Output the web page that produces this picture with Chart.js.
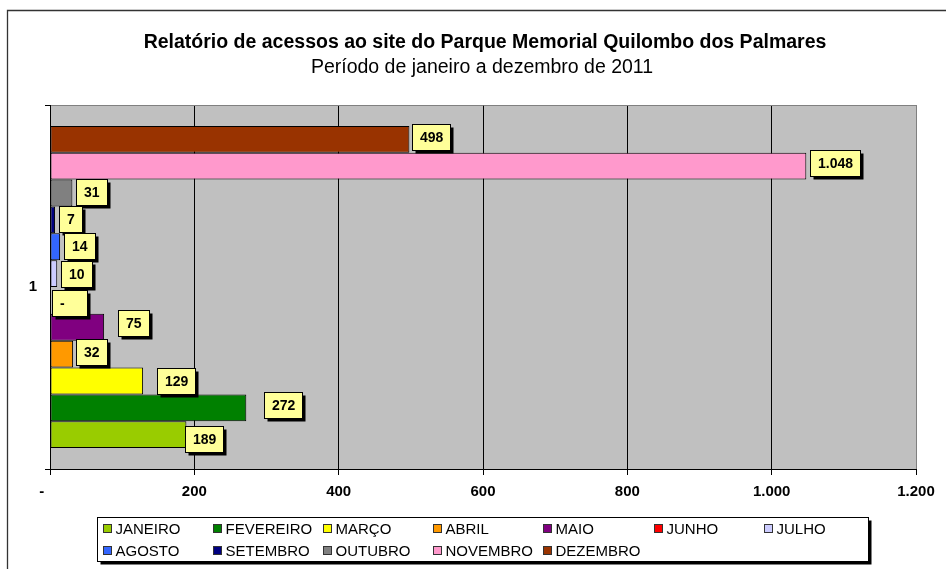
<!DOCTYPE html>
<html>
<head>
<meta charset="utf-8">
<title>Relatório de acessos</title>
<script src="https://cdn.jsdelivr.net/npm/chart.js@4.4.1/dist/chart.umd.min.js"></script>
<style>
html,body{margin:0;padding:0;background:#fff;}
canvas{display:block;}
</style>
</head>
<body>
<canvas id="grafico" width="946" height="569"></canvas>
<script>
const meses = ["JANEIRO","FEVEREIRO","MARÇO","ABRIL","MAIO","JUNHO","JULHO","AGOSTO","SETEMBRO","OUTUBRO","NOVEMBRO","DEZEMBRO"];
const acessos = [189, 272, 129, 32, 75, 0, 10, 14, 7, 31, 1048, 498];
const cores = ["#99CC00","#008000","#FFFF00","#FF9900","#800080","#FF0000","#CCCCFF","#3366FF","#000080","#808080","#FF99CC","#993300"];
const categorias = ["1"];
const titulo = "Relatório de acessos ao site do Parque Memorial Quilombo dos Palmares";
const subtitulo = "Período de janeiro a dezembro de 2011";

// posição dos rótulos em px, relativa à ponta / centro de cada barra
const rotuloDx = [-1, 18, 14, 3, 14, 1.5, 4, 4, 3.5, 4, 3.5, 3];
const rotuloDy = [4, -2.5, 0, -1.7, -3.8, 3, 0, -1, -1, -1, -3, -2.7];

const fonte = 'Arial, "Liberation Sans", sans-serif';

function formata(v)
{
    // formato contábil do Excel: zero vira "-"
    if (v === 0) return "-    ";
    return String(v).replace(/\B(?=(\d{3})+(?!\d))/g, ".");
}

// no Chart.js o primeiro dataset fica em cima, então inverte
let datasets = [];
for (let i = meses.length - 1; i >= 0; i--)
{
    datasets.push({
        label: meses[i],
        mes: i,
        data: [acessos[i]],
        backgroundColor: cores[i],
        borderColor: "#000",
        borderWidth: 1,
        borderSkipped: false
    });
}

const fundo = {
    id: "fundo",
    beforeDraw(chart)
    {
        let ctx = chart.ctx;
        let a = chart.chartArea;
        ctx.save();
        ctx.fillStyle = "#fff";
        ctx.fillRect(0, 0, chart.width, chart.height);
        ctx.strokeStyle = "#333";
        ctx.lineWidth = 1.3;
        ctx.beginPath();
        ctx.moveTo(7.5, chart.height);
        ctx.lineTo(7.5, 10.5);
        ctx.lineTo(chart.width, 10.5);
        ctx.stroke();
        ctx.fillStyle = "#C0C0C0";
        ctx.fillRect(a.left, a.top, a.right - a.left, a.bottom - a.top);
        ctx.restore();
    }
};

const rotulos = {
    id: "rotulos",
    afterDatasetsDraw(chart)
    {
        let ctx = chart.ctx;
        ctx.save();
        ctx.font = "bold 14px " + fonte;
        ctx.textBaseline = "middle";
        ctx.textAlign = "left";
        chart.data.datasets.forEach(function (ds, k)
        {
            let bar = chart.getDatasetMeta(k).data[0];
            let i = ds.mes;
            let txt = formata(acessos[i]);
            let w = Math.round(ctx.measureText(txt).width + 15);
            let h = 26;
            let x = Math.round(bar.x + rotuloDx[i]) + 0.5;
            let y = Math.round(bar.y + rotuloDy[i] - h / 2) + 0.5;
            ctx.fillStyle = "#000";
            ctx.fillRect(x + 3, y + 3, w, h);
            ctx.fillStyle = "#FFFF99";
            ctx.fillRect(x, y, w, h);
            ctx.strokeStyle = "#000";
            ctx.lineWidth = 1;
            ctx.strokeRect(x, y, w, h);
            ctx.fillStyle = "#000";
            ctx.fillText(txt, x + 7.5, y + h / 2 + 0.5);
        });
        ctx.restore();
    }
};

const textos = {
    id: "textos",
    afterDraw(chart)
    {
        let ctx = chart.ctx;
        ctx.save();
        ctx.fillStyle = "#000";
        ctx.textAlign = "center";
        ctx.textBaseline = "middle";
        ctx.font = "bold 19.5px " + fonte;
        ctx.fillText(titulo, 485, 43);
        ctx.font = "19.5px " + fonte;
        ctx.fillText(subtitulo, 482, 68);

        // legenda em caixa com sombra, 7 colunas
        let lx = 97.5, ly = 517.5, lw = 771, lh = 44;
        ctx.fillStyle = "#000";
        ctx.fillRect(lx + 3, ly + 3, lw, lh);
        ctx.fillStyle = "#fff";
        ctx.fillRect(lx, ly, lw, lh);
        ctx.strokeStyle = "#000";
        ctx.lineWidth = 1;
        ctx.strokeRect(lx, ly, lw, lh);
        ctx.font = "15px " + fonte;
        ctx.textAlign = "left";
        for (let i = 0; i < meses.length; i++)
        {
            let col = i % 7;
            let row = Math.floor(i / 7);
            let sx = Math.round(103 + col * 110.1) + 0.5;
            let sy = 529 + row * 22;
            ctx.fillStyle = cores[i];
            ctx.fillRect(sx, sy - 4.5, 8, 8);
            ctx.strokeStyle = "#333";
            ctx.strokeRect(sx, sy - 4.5, 8, 8);
            ctx.fillStyle = "#000";
            ctx.fillText(meses[i], sx + 12, sy + 1);
        }
        ctx.restore();
    }
};

new Chart(document.getElementById("grafico"), {
    type: "bar",
    data: {
        labels: categorias,
        datasets: datasets
    },
    options: {
        responsive: false,
        animation: false,
        indexAxis: "y",
        layout: { padding: { top: 105, right: 30, bottom: 68, left: 0 } },
        datasets: { bar: { categoryPercentage: 0.885, barPercentage: 1 } },
        plugins: {
            legend: { display: false },
            title: { display: false },
            tooltip: { enabled: false }
        },
        scales: {
            x: {
                min: 0,
                max: 1200,
                ticks: {
                    stepSize: 200,
                    autoSkip: false,
                    maxRotation: 0,
                    padding: 8,
                    color: "#000",
                    font: { family: fonte, size: 15, weight: "bold" },
                    callback: function (v) { return formata(v); }
                },
                grid: {
                    color: function (c) { return c.tick && c.tick.value === 1200 ? "#808080" : "#000"; },
                    tickColor: "#000",
                    tickLength: 6,
                    lineWidth: 1
                },
                border: { color: "#000", width: 1 },
                afterFit: function (s) { s.height = 32; }
            },
            y: {
                ticks: {
                    padding: 8,
                    color: "#000",
                    font: { family: fonte, size: 15, weight: "bold" }
                },
                grid: {
                    offset: true,
                    color: function (c) { return c.index === 0 ? "#808080" : "#000"; },
                    tickColor: "#000",
                    tickLength: 5
                },
                border: { color: "#000", width: 1 },
                afterFit: function (s) { s.width = 50; }
            }
        }
    },
    plugins: [fundo, rotulos, textos]
});
</script>
</body>
</html>
